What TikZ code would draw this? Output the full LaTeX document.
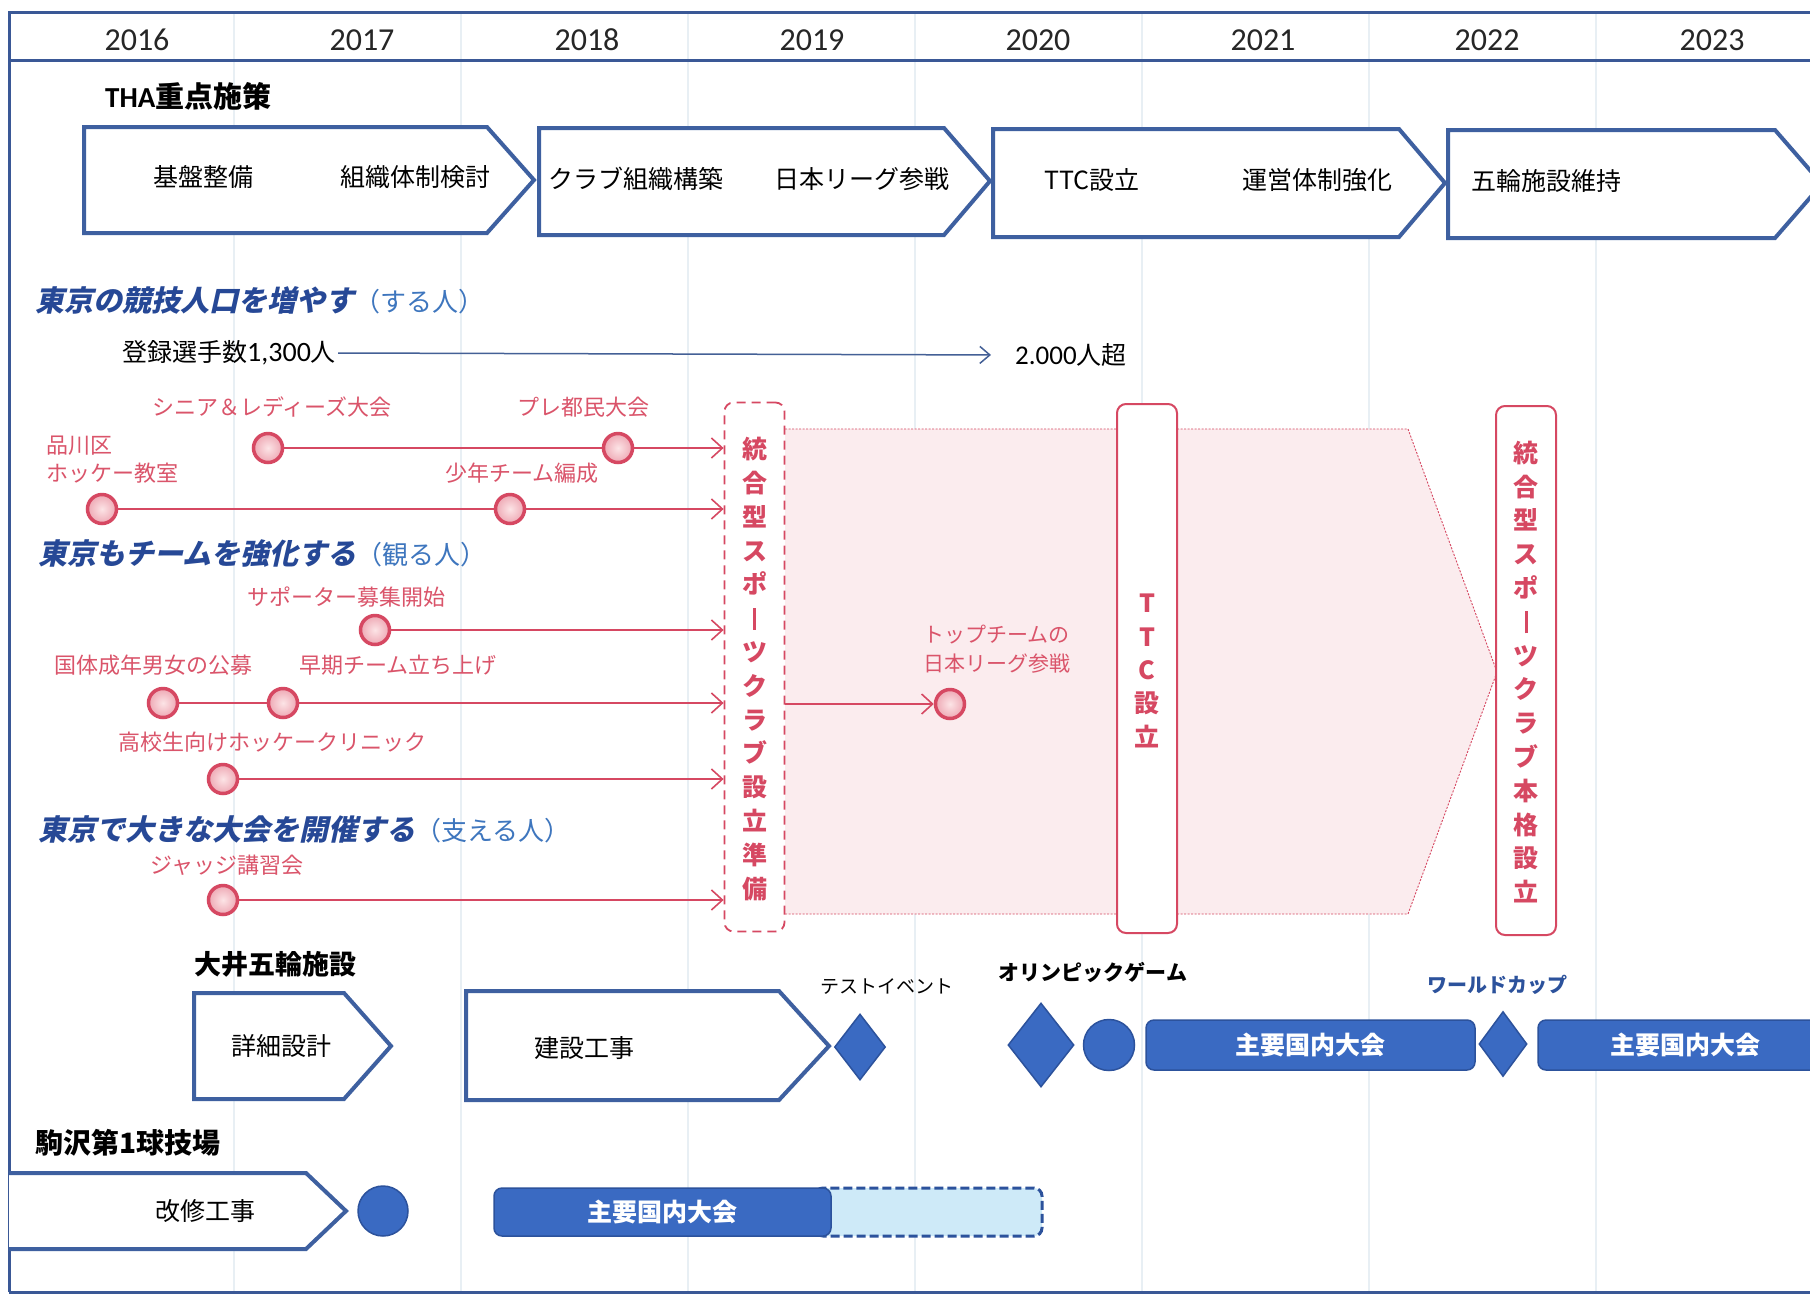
\documentclass[tikz,border=0pt]{standalone}
\usepackage{fontspec}
\setmainfont{Noto Sans CJK JP}
\newfontfamily\lat{Carlito}
\newfontfamily\jpit[FakeSlant=0.22]{Noto Sans CJK JP}
\usetikzlibrary{arrows.meta,shapes.geometric}
\definecolor{frameblue}{RGB}{58,88,150}
\definecolor{chevblue}{RGB}{62,96,160}
\definecolor{pinkl}{RGB}{214,72,98}
\definecolor{pinktxt}{RGB}{218,84,106}
\definecolor{pentfill}{RGB}{251,236,238}
\definecolor{dotin}{RGB}{252,228,230}
\definecolor{dotout}{RGB}{238,168,180}
\definecolor{shapeblue}{RGB}{58,106,194}
\definecolor{shapeedge}{RGB}{44,82,156}
\definecolor{lightblue}{RGB}{206,234,248}
\definecolor{hdblue}{RGB}{38,72,150}
\definecolor{parblue}{RGB}{62,118,190}
\definecolor{gridc}{RGB}{232,239,244}
\definecolor{arrblue}{RGB}{68,96,150}
\newcommand\vbarr{\rule[-2pt]{3pt}{22pt}}
\begin{document}
\begin{tikzpicture}[x=1pt,y=-1pt,
  frame/.style={draw=frameblue,line width=3pt},
  chev/.style={draw=chevblue,line width=4pt,fill=white,line join=miter},
  yearlab/.style={font=\lat\fontsize{32}{36}\selectfont,inner sep=0,text=black!85},
  jtxt/.style={font=\fontsize{25}{30}\selectfont,inner sep=0,text=black},
  btxt/.style={font=\fontsize{27}{32}\selectfont\bfseries,inner sep=0,text=black},
  ptxt/.style={font=\fontsize{22}{28}\selectfont,inner sep=0,text=pinktxt},
  pdot/.style={circle,draw=pinkl,line width=3.5pt,minimum size=29pt,inner sep=0,inner color=dotin,outer color=dotout},
  pline/.style={draw=pinkl,line width=1.6pt},
  parr/.style={draw=pinkl,line width=1.6pt,-{Straight Barb[length=11pt,width=20pt,line width=1.6pt]}},
  heading/.style={anchor=west,inner sep=0},
  hmain/.style={},
  vbox/.style={rounded corners=9pt,draw=pinkl,line width=2pt,fill=white,minimum width=60pt,minimum height=529pt,inner sep=0},
  vtxt/.style={font=\fontsize{25}{33.8}\selectfont\bfseries,text=pinkl,align=center},
  bshape/.style={fill=shapeblue,draw=shapeedge,line width=1.5pt,inner sep=0},
  brect/.style={bshape,rounded corners=8pt,text=white,font=\fontsize{25}{30}\selectfont\bfseries}
]
\useasboundingbox (0,0) rectangle (1810,1294);
\fill[white] (0,0) rectangle (1810,1294);
\clip (0,0) rectangle (1810,1294);
% faint grid
\foreach \gx in {234,461,688,915,1142,1369,1596}
  \draw[gridc,line width=2pt] (\gx,12) -- (\gx,1292);
% frame
\draw[frame] (9,1292) -- (9,12) -- (1815,12);
\draw[frame] (9,60) -- (1815,60);
\draw[frame] (9,1292) -- (1815,1292);
% years
\foreach \yr/\yx in {2016/137,2017/362,2018/587,2019/812,2020/1038,2021/1263,2022/1487,2023/1712}
  \node[yearlab] (y\yr) at (\yx,40) {\yr};
% THA
\node[anchor=west,inner sep=0,font=\fontsize{29}{32}\selectfont\bfseries] (tha) at (105,96) {{\lat\bfseries THA}重点施策};
% top chevrons
\draw[chev] (84,127) -- (487,127) -- (534,180) -- (487,233) -- (84,233) -- cycle;
\draw[chev] (539,128) -- (944,128) -- (990,181) -- (944,235) -- (539,235) -- cycle;
\draw[chev] (993,129) -- (1399,129) -- (1445,183) -- (1399,237) -- (993,237) -- cycle;
\draw[chev] (1448,130) -- (1775,130) -- (1822,184) -- (1775,238) -- (1448,238) -- cycle;
\node[jtxt] (t1) at (203,177) {基盤整備};
\node[jtxt] (t2) at (415,177) {組織体制検討};
\node[jtxt] (t3) at (636,179) {クラブ組織構築};
\node[jtxt] (t4) at (862,179) {日本リーグ参戦};
\node[jtxt] (t5) at (1092,180) {TTC設立};
\node[jtxt] (t6) at (1317,180) {運営体制強化};
\node[jtxt] (t7) at (1546,181) {五輪施設維持};
% headings
\node[heading] (h1) at (35,300) {{\jpit\bfseries\fontsize{29}{32}\selectfont\color{hdblue}東京の競技人口を増やす}{\fontsize{26}{28}\selectfont\color{parblue}（する人）}};
\node[heading] (h2) at (38,554) {{\jpit\bfseries\fontsize{29}{32}\selectfont\color{hdblue}東京もチームを強化する}{\fontsize{26}{28}\selectfont\color{parblue}（観る人）}};
\node[heading] (h3) at (38,829) {{\jpit\bfseries\fontsize{29}{32}\selectfont\color{hdblue}東京で大きな大会を開催する}{\fontsize{26}{28}\selectfont\color{parblue}（支える人）}};
% registered players
\node[anchor=west,inner sep=2pt,font=\fontsize{25}{30}\selectfont] (reg) at (120,353) {登録選手数{\lat\fontsize{28}{30}\selectfont 1,300}人};
\node[anchor=west,inner sep=2pt,font=\fontsize{25}{30}\selectfont] (goal) at (1013,355) {{\lat\fontsize{27}{30}\selectfont 2.000}人超};
\draw[draw=arrblue,line width=1.5pt,-{Straight Barb[length=10pt,width=17pt,line width=1.5pt]},shorten >=22pt] (reg.east) -- (goal.west);
% pink pentagon
\fill[pentfill] (785,429) -- (1408,429) -- (1497,672) -- (1408,914) -- (785,914) -- cycle;
\draw[pinkl,line width=0.9pt,dash pattern=on 2pt off 1.5pt] (785,429) -- (1408,429) -- (1497,672) -- (1408,914) -- (785,914);
% vertical boxes
\node[vbox,dash pattern=on 9pt off 6pt,line width=1.8pt] (prep) at (754.5,667) {};
\node[vtxt] (preptxt) at (754.5,669) {統\\合\\型\\ス\\ポ\\\vbarr\\ツ\\ク\\ラ\\ブ\\設\\立\\準\\備};
\node[vbox] (ttc) at (1147,668.5) {};
\node[vtxt,font=\fontsize{25}{33.3}\selectfont\bfseries] (ttctxt) at (1147,671) {T\\T\\C\\設\\立};
\node[vbox] (full) at (1526,670.5) {};
\node[vtxt] (fulltxt) at (1526,672) {統\\合\\型\\ス\\ポ\\\vbarr\\ツ\\ク\\ラ\\ブ\\本\\格\\設\\立};
% row 1
\node[pdot] (c1a) at (268,448) {};
\node[pdot] (c1b) at (618,448) {};
\node[ptxt] (l1a) at (272,407) {シニア＆レディーズ大会};
\node[ptxt] (l1b) at (583,407) {プレ都民大会};
\draw[pline] (c1a) -- (c1b);
\draw[parr] (c1b) -- (c1b -| prep.west);
% row 2
\node[pdot] (c2a) at (102,509) {};
\node[pdot] (c2b) at (510,509) {};
\node[ptxt,anchor=west,align=left] (l2a) at (46,460) {品川区\\ホッケー教室};
\node[ptxt] (l2b) at (522,473) {少年チーム編成};
\draw[pline] (c2a) -- (c2b);
\draw[parr] (c2b) -- (c2b -| prep.west);
% row 3
\node[pdot] (c3) at (375,630) {};
\node[ptxt] (l3) at (346,597) {サポーター募集開始};
\draw[parr] (c3) -- (c3 -| prep.west);
% row 4
\node[pdot] (c4a) at (163,703) {};
\node[pdot] (c4b) at (283,703) {};
\node[ptxt] (l4a) at (153,665) {国体成年男女の公募};
\node[ptxt] (l4b) at (398,665) {早期チーム立ち上げ};
\draw[pline] (c4a) -- (c4b);
\draw[parr] (c4b) -- (c4b -| prep.west);
% top team
\node[pdot] (ct) at (950,704) {};
\node[ptxt,anchor=west,align=left,font=\fontsize{21}{29}\selectfont] (lt) at (923,649.5) {トップチームの\\日本リーグ参戦};
\draw[parr] (prep.east |- ct) -- (ct);
% row 5
\node[pdot] (c5) at (223,779) {};
\node[ptxt] (l5) at (272,742) {高校生向けホッケークリニック};
\draw[parr] (c5) -- (c5 -| prep.west);
% row 6
\node[pdot] (c6) at (223,900) {};
\node[ptxt] (l6) at (227,865) {ジャッジ講習会};
\draw[parr] (c6) -- (c6 -| prep.west);
% Oi facility
\node[btxt,anchor=west] (oi) at (194,964) {大井五輪施設};
\draw[chev] (194,993) -- (344,993) -- (391,1046) -- (344,1099) -- (194,1099) -- cycle;
\node[jtxt] (dd) at (281,1046) {詳細設計};
\draw[chev] (466,991) -- (779,991) -- (829,1046) -- (779,1100) -- (466,1100) -- cycle;
\node[jtxt] (kk) at (584,1048) {建設工事};
\node[bshape,diamond,minimum width=51pt,minimum height=66pt] (test) at (860,1047) {};
\node[font=\fontsize{19}{24}\selectfont,inner sep=0] (testl) at (887,987) {テストイベント};
\node[font=\fontsize{21}{26}\selectfont\bfseries,inner sep=0] (olyl) at (1093,972) {オリンピックゲーム};
\node[bshape,diamond,minimum width=66pt,minimum height=84pt] (oly) at (1041,1045) {};
\node[bshape,circle,minimum size=51pt] (olyc) at (1109,1045) {};
\node[brect,minimum width=329pt,minimum height=50pt] (major1) at (1310.5,1045) {主要国内大会};
\node[font=\fontsize{20}{24}\selectfont\bfseries,text=shapeedge,inner sep=0] (wcl) at (1497,985) {ワールドカップ};
\node[bshape,diamond,minimum width=48pt,minimum height=65pt] (wc) at (1503,1044) {};
\node[brect,minimum width=294pt,minimum height=50pt] (major2) at (1685,1045) {主要国内大会};
% Komazawa
\node[btxt,anchor=west,font=\fontsize{28}{32}\selectfont\bfseries] (kz) at (35,1143) {駒沢第1球技場};
\draw[chev] (9,1173) -- (306,1173) -- (346,1211) -- (306,1249) -- (9,1249);
\node[jtxt] (ks) at (205,1211) {改修工事};
\node[bshape,circle,minimum size=50pt] (kzc) at (383,1211) {};
\draw[draw=shapeedge,fill=lightblue,line width=3pt,dash pattern=on 9pt off 4pt,rounded corners=8pt] (815,1188) rectangle (1042,1236);
\node[brect,minimum width=337pt,minimum height=48pt] (major3) at (662.5,1212) {主要国内大会};
\end{tikzpicture}
\end{document}
